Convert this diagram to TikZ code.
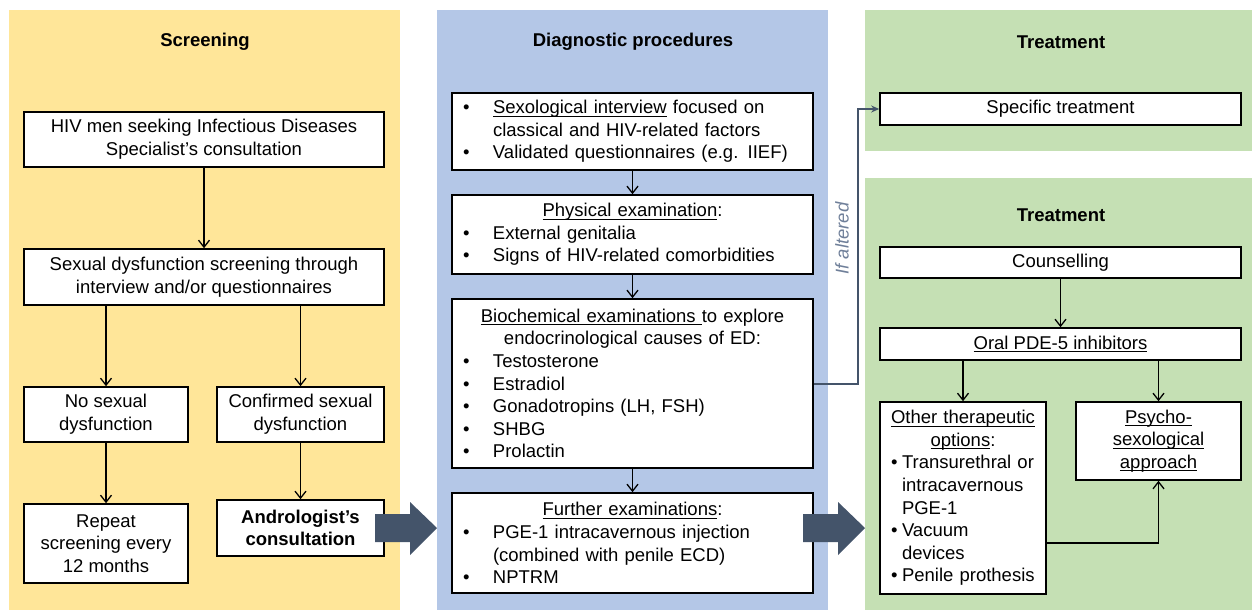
\documentclass[tikz,border=0pt]{standalone}
\usepackage{fontspec}
\setmainfont{Liberation Sans}
\usetikzlibrary{arrows.meta,positioning,calc}

\definecolor{screenbg}{HTML}{FFE699}
\definecolor{diagbg}{HTML}{B4C7E7}
\definecolor{treatbg}{HTML}{C5E0B4}
\definecolor{slate}{HTML}{44546A}
\definecolor{altgray}{HTML}{6F7F99}

\newcommand{\bodyfont}{\fontsize{18.5}{22.6}\selectfont}
\newcommand{\ulin}[1]{\leavevmode\setbox0=\hbox{#1}\rlap{\rule[-3pt]{\wd0}{1.1pt}}\box0\relax}
\newcommand{\boxhead}[1]{\makebox[\hsize]{#1}}
\newcommand{\bul}{\makebox[31pt][l]{\hspace{1pt}\textbullet}}
\newcommand{\ind}{\hspace*{31pt}}
\newcommand{\sbul}{\makebox[17pt][l]{\hspace{6pt}\textbullet}}
\newcommand{\sind}{\hspace*{17pt}}

\tikzset{
  box/.style={draw, line width=1.6pt, fill=white, inner sep=0pt, align=center, font=\bodyfont},
  listbox/.style={box, align=left, inner xsep=10pt, text width=341pt},
  title/.style={font=\bodyfont\bfseries},
  flow/.style={line width=1.3pt, -{Straight Barb[length=7pt,width=11pt,line width=1.3pt]}},
  altline/.style={line width=2pt, slate, -{Stealth[length=8pt,width=7pt]}},
  altlabel/.style={font=\bodyfont\itshape, text=altgray},
}

\begin{document}
\begin{tikzpicture}[x=1pt,y=-1pt]
  \useasboundingbox (0,0) rectangle (1252,610);
  % panels
  \fill[screenbg] (9,10)    rectangle (400,610);
  \fill[diagbg]   (437,10)  rectangle (828,610);
  \fill[treatbg]  (865,10)  rectangle (1252,151);
  \fill[treatbg]  (865,178) rectangle (1252,610);
  \node[title] (tscr)    at (205,42)   {Screening};
  \node[title] (tdiag)   at (633,42)   {Diagnostic procedures};
  \node[title] (ttreat)  at (1061,42)  {Treatment};
  \node[title] (ttreatb) at (1061,215) {Treatment};

  % screening
  \node[box, minimum width=360pt, minimum height=55pt] (hiv) at (204,139.5)
    {HIV men seeking Infectious Diseases\\Specialist's consultation};
  \node[box, minimum width=360pt, minimum height=56pt] (scr) at (204,277)
    {Sexual dysfunction screening through\\interview and/or questionnaires};
  \node[box, minimum width=164pt, minimum height=55pt] (nosd) at (106,414.5)
    {No sexual\\dysfunction};
  \node[box, minimum width=167pt, minimum height=55pt] (consd) at (300.5,414.5)
    {Confirmed sexual\\dysfunction};
  \node[box, minimum width=164pt, minimum height=79pt] (rep) at (106,543.5)
    {Repeat\\screening every\\12 months};
  \node[box, minimum width=167pt, minimum height=56pt, font=\bodyfont\bfseries] (andro) at (300.5,528)
    {Andrologist's\\consultation};
  \draw[flow] (hiv) -- (scr);
  \draw[flow] (scr.south -| nosd.north) -- (nosd.north);
  \draw[flow] (scr.south -| consd.north) -- (consd.north);
  \draw[flow] (nosd) -- (rep);
  \draw[flow] (consd) -- (andro);

  % diagnostic procedures
  \node[listbox, minimum height=77pt] (d1) at (632.5,131.5)
    {\bul\ulin{Sexological interview} focused on\\\ind classical and HIV-related factors\\\bul Validated questionnaires (e.g. IIEF)};
  \node[listbox, minimum height=79pt] (d2) at (632.5,234.5)
    {\boxhead{\ulin{Physical examination}:}\\\bul External genitalia\\\bul Signs of HIV-related comorbidities};
  \node[listbox, minimum height=169pt] (d3) at (632.5,383.5)
    {\boxhead{\ulin{Biochemical examinations }to explore}\\\boxhead{endocrinological causes of ED:}\\\bul Testosterone\\\bul Estradiol\\\bul Gonadotropins (LH, FSH)\\\bul SHBG\\\bul Prolactin};
  \node[listbox, minimum height=100pt] (d4) at (632.5,543)
    {\boxhead{\ulin{Further examinations}:}\\\bul PGE-1 intracavernous injection\\\ind(combined with penile ECD)\\\bul NPTRM};
  \draw[flow] (d1) -- (d2);
  \draw[flow] (d2) -- (d3);
  \draw[flow] (d3) -- (d4);

  % treatment
  \node[box, minimum width=361pt, minimum height=32pt] (spec) at (1060.5,109) {Specific treatment};
  \node[box, minimum width=361pt, minimum height=31pt] (couns) at (1060.5,262.5) {Counselling};
  \node[box, minimum width=361pt, minimum height=32pt] (oral) at (1060.5,344) {\ulin{Oral PDE-5 inhibitors}};
  \node[box, align=left, inner xsep=5pt, text width=156pt, minimum height=192pt] (other) at (963,498)
    {\boxhead{\ulin{Other therapeutic}}\\\boxhead{\ulin{options}:}\\\sbul Transurethral or\\\sind intracavernous\\\sind PGE-1\\\sbul Vacuum\\\sind devices\\\sbul Penile prothesis};
  \node[box, minimum width=165pt, minimum height=78pt] (psy) at (1158.5,441)
    {\ulin{Psycho-}\\\ulin{sexological}\\\ulin{approach}};
  \draw[flow] (couns) -- (oral);
  \draw[flow] (oral.south -| other.north) -- (other.north);
  \draw[flow] (oral.south -| psy.north) -- (psy.north);
  \draw[flow] ([yshift=-45pt]other.east) -| (psy.south);

  % if altered
  \draw[altline] (d3.east) -- ++(44,0) |- (spec.west);
  \node[altlabel, rotate=90] (alt) at (842,238.5) {If altered};

  % block arrows
  \foreach \x in {375,803}
    \fill[slate] (\x,514) -- ++(35,0) -- ++(0,-12) -- ++(27,26) -- ++(-27,27)
      -- ++(0,-13) -- ++(-35,0) -- cycle;
\end{tikzpicture}
\end{document}
